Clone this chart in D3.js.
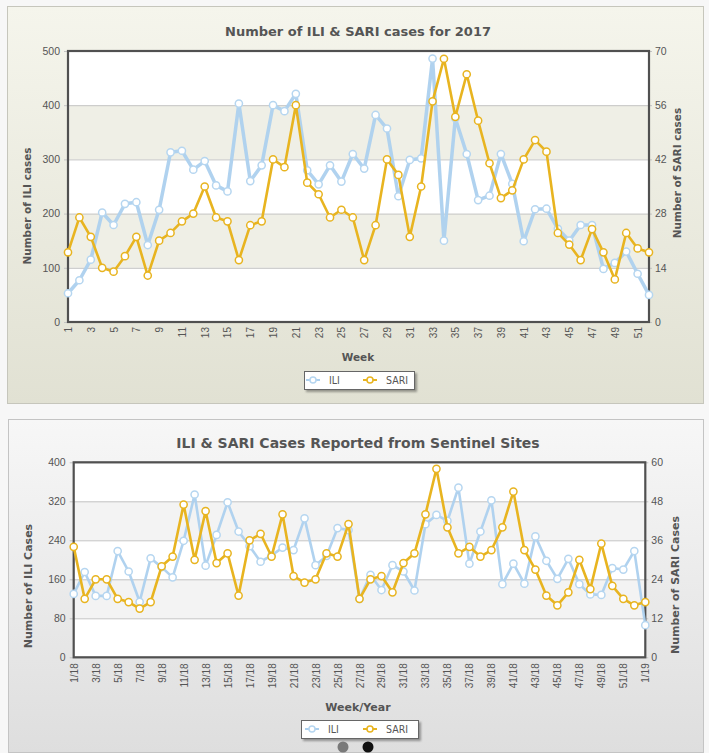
<!DOCTYPE html>
<html><head><meta charset="utf-8">
<script src="https://cdn.jsdelivr.net/npm/d3@7"></script>
<style>
html,body{margin:0;padding:0;background:#f7f7f7;}
svg{display:block;font-family:"DejaVu Sans",Verdana,sans-serif;}
</style></head>
<body>
<svg id="c" width="709" height="753"></svg>
<script>
// ---------- Chart 1 data ----------
const weeks2017 = d3.range(1, 53).map(String);
const ili2017 = [53,77,115,202,179,218,221,142,207,313,316,281,297,252,241,403,260,289,400,389,421,280,254,289,259,310,283,382,357,232,299,302,486,150,376,310,225,233,310,255,149,208,209,172,150,179,179,98,109,130,89,50];
const sari2017 = [18,27,22,14,13,17,22,12,21,23,26,28,35,27,26,16,25,26,42,40,56,36,33,27,29,27,16,25,42,38,22,35,57,68,53,64,52,41,32,34,42,47,44,23,20,16,24,18,11,23,19,18];
const iliTicks1 = [0,100,200,300,400,500];
const sariTicks1 = [0,14,28,42,56,70];

// ---------- Chart 2 data ----------
const weeks2018 = d3.range(1, 53).map(w => w + "/18").concat(["1/19"]);
const iliSentinel = [130,175,126,126,218,176,114,203,185,164,239,334,188,251,318,258,228,196,209,225,220,285,189,208,265,261,120,169,138,189,176,137,273,292,280,348,192,258,322,150,192,151,248,198,161,202,150,129,128,183,180,218,66];
const sariSentinel = [34,18,24,24,18,17,15,17,28,31,47,30,45,29,32,19,36,38,31,44,25,23,24,32,31,41,18,24,25,20,29,32,44,58,40,32,34,31,33,40,51,33,27,19,16,20,30,21,35,22,18,16,17];
const iliTicks2 = [0,80,160,240,320,400];
const sariTicks2 = [0,12,24,36,48,60];

const seriesNames = ["ILI","SARI"];
const ILI_COLOR = "#acd0ee", SARI_COLOR = "#e8b420";

const svg = d3.select("#c");
const defs = svg.append("defs");
function grad(id, c1, c2){
  const g = defs.append("linearGradient").attr("id", id).attr("x1",0).attr("y1",0).attr("x2",0).attr("y2",1);
  g.append("stop").attr("offset","0%").attr("stop-color",c1);
  g.append("stop").attr("offset","100%").attr("stop-color",c2);
}
grad("bg1", "#f5f5ec", "#e1e1d3");
grad("bg2", "#f7f7f7", "#dedede");
const sh = defs.append("filter").attr("id","sh").attr("x","-10%").attr("y","-10%").attr("width","130%").attr("height","150%");
sh.append("feDropShadow").attr("dx",2).attr("dy",2).attr("stdDeviation",1.2).attr("flood-color","#000").attr("flood-opacity",0.35);

function drawChart(cfg){
  const g = svg.append("g");
  // panel
  g.append("rect").attr("x",cfg.panel[0]+0.5).attr("y",cfg.panel[1]+0.5)
    .attr("width",cfg.panel[2]).attr("height",cfg.panel[3])
    .attr("fill","url(#"+cfg.bg+")").attr("stroke",cfg.panelStroke);
  const [L,R,T,B] = cfg.plot;
  const x = d3.scalePoint().domain(cfg.cats).range([L,R]).padding(0);
  const yL = d3.scaleLinear().domain([0, cfg.iliTicks[cfg.iliTicks.length-1]]).range([B,T]);
  const yR = d3.scaleLinear().domain([0, cfg.sariTicks[cfg.sariTicks.length-1]]).range([B,T]);

  // plot bg & bands
  g.append("rect").attr("x",L).attr("y",T).attr("width",R-L).attr("height",B-T).attr("fill","#fff");
  const bands = d3.pairs(cfg.iliTicks);
  g.selectAll(null).data(bands).join("rect")
    .attr("x",L).attr("width",R-L)
    .attr("y",d=>yL(d[1])).attr("height",d=>yL(d[0])-yL(d[1]))
    .attr("fill",(d,i)=> i%2===1 ? cfg.band : "#fff");

  // left axis with gridlines
  const ax = g.append("g").attr("transform",`translate(${L},0)`)
    .call(d3.axisLeft(yL).tickValues(cfg.iliTicks).tickSize(-(R-L)).tickSizeOuter(0).tickPadding(8));
  ax.select(".domain").remove();
  ax.selectAll(".tick line").attr("x1",-4).attr("stroke","#c4c4c4");
  ax.selectAll(".tick text").attr("fill","#555").attr("font-size",10.5);

  const ar = g.append("g").attr("transform",`translate(${R},0)`)
    .call(d3.axisRight(yR).tickValues(cfg.sariTicks).tickSize(3).tickSizeOuter(0).tickPadding(3));
  ar.select(".domain").remove();
  ar.selectAll(".tick line").attr("stroke","#c4c4c4");
  ar.selectAll(".tick text").attr("fill","#555").attr("font-size",10.5);

  // bottom axis
  const ab = g.append("g").attr("transform",`translate(0,${B})`)
    .call(d3.axisBottom(x).tickValues(cfg.cats.filter((d,i)=>i%2===0)).tickSize(0).tickSizeOuter(0));
  ab.select(".domain").remove();
  ab.selectAll(".tick text").attr("fill","#555").attr("font-size",cfg.xFont)
    .attr("transform","rotate(-90)").attr("text-anchor","end")
    .attr("x",-cfg.xOff).attr("y",0).attr("dy","0.35em");

  // plot border
  g.append("rect").attr("x",L).attr("y",T).attr("width",R-L).attr("height",B-T)
    .attr("fill","none").attr("stroke","#505050").attr("stroke-width",2.2);

  // lines
  const lineL = d3.line().x((d,i)=>x(cfg.cats[i])).y(d=>yL(d));
  const lineR = d3.line().x((d,i)=>x(cfg.cats[i])).y(d=>yR(d));
  g.append("path").datum(cfg.ili).attr("d",lineL).attr("fill","none")
    .attr("stroke",ILI_COLOR).attr("stroke-width",cfg.iliW).attr("stroke-linejoin","round").attr("opacity",0.95);
  g.selectAll(null).data(cfg.ili).join("circle")
    .attr("cx",(d,i)=>x(cfg.cats[i])).attr("cy",d=>yL(d)).attr("r",cfg.r)
    .attr("fill","#fff").attr("stroke","#b6d6f0").attr("stroke-width",1.5);
  g.append("path").datum(cfg.sari).attr("d",lineR).attr("fill","none")
    .attr("stroke",SARI_COLOR).attr("stroke-width",cfg.sariW).attr("stroke-linejoin","round");
  g.selectAll(null).data(cfg.sari).join("circle")
    .attr("cx",(d,i)=>x(cfg.cats[i])).attr("cy",d=>yR(d)).attr("r",cfg.r)
    .attr("fill","#fff").attr("stroke",SARI_COLOR).attr("stroke-width",1.5);

  // titles
  g.append("text").attr("x",cfg.title[1]).attr("y",cfg.title[2]).attr("text-anchor","middle")
    .attr("font-weight","bold").attr("font-size",cfg.titleSize).attr("fill","#555").text(cfg.title[0]);
  g.append("text").attr("transform",`translate(${cfg.yTitleL[1]},${cfg.yTitleL[2]}) rotate(-90)`)
    .attr("text-anchor","middle").attr("font-weight","bold").attr("font-size",cfg.axisTitleSize).attr("fill","#555").text(cfg.yTitleL[0]);
  g.append("text").attr("transform",`translate(${cfg.yTitleR[1]},${cfg.yTitleR[2]}) rotate(-90)`)
    .attr("text-anchor","middle").attr("font-weight","bold").attr("font-size",cfg.axisTitleSize).attr("fill","#555").text(cfg.yTitleR[0]);
  g.append("text").attr("x",cfg.xTitle[1]).attr("y",cfg.xTitle[2]).attr("text-anchor","middle")
    .attr("font-weight","bold").attr("font-size",cfg.axisTitleSize).attr("fill","#555").text(cfg.xTitle[0]);

  // legend
  const [lx,ly,lw,lh] = cfg.legend;
  g.append("rect").attr("x",lx+0.5).attr("y",ly+0.5).attr("width",lw).attr("height",lh)
    .attr("fill","#fff").attr("stroke","#666").attr("filter","url(#sh)");
  const items = g.selectAll(null).data(seriesNames).join("g")
    .attr("transform",(d,i)=>`translate(${cfg.legendX[i]},${ly+lh/2})`);
  items.append("line").attr("x1",-7).attr("x2",7)
    .attr("stroke",(d,i)=> i===0 ? ILI_COLOR : SARI_COLOR).attr("stroke-width",2);
  items.append("circle").attr("r",3).attr("fill","#fff")
    .attr("stroke",(d,i)=> i===0 ? "#b6d6f0" : SARI_COLOR).attr("stroke-width",1.5);
  items.append("text").attr("x",16).attr("dy","0.35em").attr("font-size",10.5)
    .attr("font-family","'Liberation Sans Narrow','DejaVu Sans Condensed',sans-serif")
    .attr("fill","#555").text(d=>d);
}

drawChart({
  panel:[7,6,696,397], bg:"bg1", panelStroke:"#c6c6bc", band:"#efefe6",
  plot:[68,649,51,322], cats:weeks2017, ili:ili2017, sari:sari2017,
  iliTicks:iliTicks1, sariTicks:sariTicks1, xFont:10, xOff:5,
  iliW:3.5, sariW:2.6, r:3.6,
  title:["Number of ILI & SARI cases for 2017",358,36], titleSize:13,
  yTitleL:["Number of ILI cases",31,206], yTitleR:["Number of SARI cases",681,173],
  xTitle:["Week",358,361], axisTitleSize:10.5,
  legend:[304,371,110,18], legendX:[313,370]
});
drawChart({
  panel:[8,419,695,333], bg:"bg2", panelStroke:"#c4c4c4", band:"#f3f3f3",
  plot:[73.7,645.3,462.3,657.3], cats:weeks2018, ili:iliSentinel, sari:sariSentinel,
  iliTicks:iliTicks2, sariTicks:sariTicks2, xFont:10, xOff:6,
  iliW:2.6, sariW:2.6, r:3.6,
  title:["ILI & SARI Cases Reported from Sentinel Sites",358,448], titleSize:14,
  yTitleL:["Number of ILI Cases",32,586], yTitleR:["Number of SARI Cases",679,585],
  xTitle:["Week/Year",358,711], axisTitleSize:11,
  legend:[301,720,117,18], legendX:[312,370]
});

// pager dots
svg.selectAll(null).data(["#7a7a7a","#111"]).join("circle")
  .attr("cx",(d,i)=>[343,368][i]).attr("cy",747).attr("r",5.5).attr("fill",d=>d);
</script>
</body></html>
